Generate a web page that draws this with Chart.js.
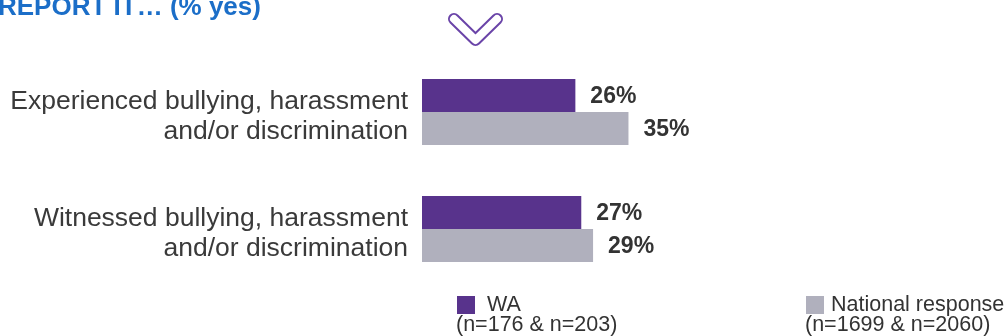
<!DOCTYPE html>
<html lang="en">
<head>
    <meta charset="UTF-8">
    <title>Report it</title>
    <script src="https://cdn.jsdelivr.net/npm/chart.js"></script>
    <style>
        body {
            margin: 0;
            background: #fff;
        }

        .chart-box {
            position: relative;
            width: 1006px;
            height: 336px;
        }
    </style>
</head>
<body>
    <div class="chart-box">
        <canvas id="barChart"></canvas>
    </div>

    <script>
        // values (% yes)
        var categories = [
            ['Experienced bullying, harassment', 'and/or discrimination'],
            ['Witnessed bullying, harassment', 'and/or discrimination']
        ];
        var seriesNames = ['WA', 'National response'];
        var sampleNotes = ['(n=176 & n=203)', '(n=1699 & n=2060)'];
        var waValues = [26, 27];
        var nationalValues = [35, 29];

        var purple = '#58338c';
        var grey = '#b0b0bd';
        var textColor = '#333333';
        var fontFamily = '"Liberation Sans", Arial, sans-serif';

        // category names, two lines each, right aligned against the bars
        var categoryLabels = {
            id: 'categoryLabels',
            afterDraw: function (chart) {
                var ctx = chart.ctx;
                var yScale = chart.scales.y;
                ctx.save();
                ctx.font = '26.5px ' + fontFamily;
                ctx.fillStyle = '#3a3a3a';
                ctx.textAlign = 'right';
                ctx.textBaseline = 'alphabetic';
                categories.forEach(function (lines, i) {
                    var y = yScale.getPixelForTick(i);
                    lines.forEach(function (line, k) {
                        ctx.fillText(line, yScale.right - 14, y - 3 + k * 30);
                    });
                });
                ctx.restore();
            }
        };

        // heading, chevron and legend drawn straight onto the canvas
        var extrasPlugin = {
            id: 'extras',
            afterDraw: function (chart) {
                var ctx = chart.ctx;
                ctx.save();

                ctx.fillStyle = '#1b6ec8';
                ctx.font = 'bold 26px ' + fontFamily;
                ctx.textAlign = 'left';
                ctx.textBaseline = 'alphabetic';
                ctx.fillText('REPORT IT\u2026 (% yes)', -2, 15);

                // outlined chevron
                ctx.lineCap = 'round';
                ctx.lineJoin = 'round';
                ctx.beginPath();
                ctx.moveTo(454, 19);
                ctx.lineTo(475.5, 40);
                ctx.lineTo(497, 19);
                ctx.strokeStyle = '#6a44a8';
                ctx.lineWidth = 12;
                ctx.stroke();
                ctx.strokeStyle = '#ffffff';
                ctx.lineWidth = 8;
                ctx.stroke();

                // legend
                var items = [
                    { x: 457, color: purple },
                    { x: 806, color: grey }
                ];
                ctx.font = '21.5px ' + fontFamily;
                items.forEach(function (item, i) {
                    ctx.fillStyle = item.color;
                    ctx.fillRect(item.x, 296, 18, 18);
                    ctx.fillStyle = textColor;
                    ctx.fillText(seriesNames[i], item.x + (i === 0 ? 30 : 25), 311);
                    ctx.fillText(sampleNotes[i], item.x - 1, 331);
                });

                ctx.restore();
            }
        };

        // percentage labels at the end of each bar
        var valueLabels = {
            id: 'valueLabels',
            afterDatasetsDraw: function (chart) {
                var ctx = chart.ctx;
                ctx.save();
                ctx.font = 'bold 23px ' + fontFamily;
                ctx.fillStyle = textColor;
                ctx.textAlign = 'left';
                ctx.textBaseline = 'middle';
                chart.data.datasets.forEach(function (ds, i) {
                    chart.getDatasetMeta(i).data.forEach(function (bar, j) {
                        ctx.fillText(ds.data[j] + '%', bar.x + 15, bar.y + 1);
                    });
                });
                ctx.restore();
            }
        };

        var barChartData = {
            labels: categories,
            datasets: [{
                label: seriesNames[0],
                data: waValues,
                backgroundColor: purple
            }, {
                label: seriesNames[1],
                data: nationalValues,
                backgroundColor: grey
            }]
        };

        var barChart = new Chart(document.getElementById('barChart'), {
            type: 'bar',
            data: barChartData,
            options: {
                indexAxis: 'y',
                responsive: true,
                maintainAspectRatio: false,
                animation: false,
                layout: {
                    padding: { top: 53.5, bottom: 48.5, left: 0, right: 0 }
                },
                datasets: {
                    bar: {
                        categoryPercentage: 0.564,
                        barPercentage: 1.0
                    }
                },
                plugins: {
                    legend: { display: false },
                    tooltip: { enabled: false }
                },
                scales: {
                    x: {
                        display: false,
                        min: 0,
                        max: 99
                    },
                    y: {
                        grid: { display: false, drawTicks: false },
                        border: { display: false },
                        afterFit: function (scale) {
                            scale.width = 422;
                        },
                        ticks: { display: false }
                    }
                }
            },
            plugins: [valueLabels, categoryLabels, extrasPlugin]
        });
    </script>
</body>
</html>
